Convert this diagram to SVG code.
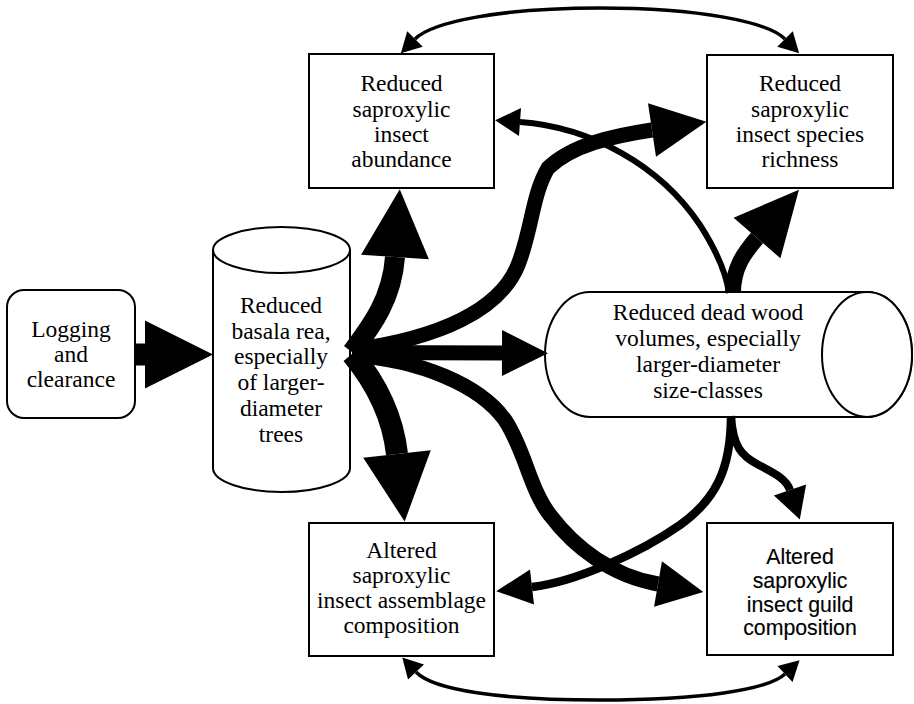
<svg xmlns="http://www.w3.org/2000/svg" width="914" height="704" viewBox="0 0 914 704">
<style>
.box{fill:#fff;stroke:#000;stroke-width:2}
.t{font-family:"Liberation Serif","Times New Roman",serif;font-size:23.5px;text-anchor:middle;fill:#000}
.s{font-family:"Liberation Sans",Arial,sans-serif;font-size:21.3px;text-anchor:middle;fill:#000;stroke:#000;stroke-width:0.15}
.c{fill:none;stroke:#000}
</style>
<defs>
<marker id="m68" markerUnits="userSpaceOnUse" markerWidth="70" markerHeight="70" refX="0" refY="34" orient="auto-start-reverse" overflow="visible"><path d="M0,0 L68,34 L0,68 Z"/></marker>
<marker id="m62" markerUnits="userSpaceOnUse" markerWidth="66" markerHeight="66" refX="0" refY="31" orient="auto-start-reverse" overflow="visible"><path d="M0,0 L64,31 L0,62 Z"/></marker>
<marker id="m55" markerUnits="userSpaceOnUse" markerWidth="56" markerHeight="56" refX="0" refY="27" orient="auto-start-reverse" overflow="visible"><path d="M0,0 L55,27 L0,54 Z"/></marker>
<marker id="m46" markerUnits="userSpaceOnUse" markerWidth="48" markerHeight="48" refX="0" refY="23" orient="auto-start-reverse" overflow="visible"><path d="M0,0 L46,23 L0,46 Z"/></marker>
<marker id="m36" markerUnits="userSpaceOnUse" markerWidth="38" markerHeight="38" refX="0" refY="17.5" orient="auto-start-reverse" overflow="visible"><path d="M0,0 L36,17.5 L0,35 Z"/></marker>
<marker id="m31" markerUnits="userSpaceOnUse" markerWidth="34" markerHeight="34" refX="0" refY="17" orient="auto-start-reverse" overflow="visible"><path d="M0,0 L31,17 L0,34 Z"/></marker>
<marker id="m25" markerUnits="userSpaceOnUse" markerWidth="28" markerHeight="28" refX="0" refY="14" orient="auto-start-reverse" overflow="visible"><path d="M0,0 L25,14 L0,28 Z"/></marker>
<marker id="m20" markerUnits="userSpaceOnUse" markerWidth="22" markerHeight="22" refX="0" refY="11" orient="auto-start-reverse" overflow="visible"><path d="M0,0 L20,11 L0,22 Z"/></marker>
</defs>
<rect width="914" height="704" fill="#fff"/>

<g id="logging">
<rect class="box" x="7" y="290" width="128" height="128" rx="17"/>
<text class="t" x="71" y="337">Logging</text>
<text class="t" x="71" y="362">and</text>
<text class="t" x="71" y="387">clearance</text>
</g>

<g id="basal-area">
<path class="box" d="M213,250 L213,468 A68.5,24 0 0 0 350,468 L350,250 Z"/>
<ellipse class="box" cx="281.5" cy="250" rx="68.5" ry="23"/>
<text class="t" x="281" y="313">Reduced</text>
<text class="t" x="281" y="338.7">basala rea,</text>
<text class="t" x="281" y="364.4">especially</text>
<text class="t" x="281" y="390">of larger-</text>
<text class="t" x="281" y="415.8">diameter</text>
<text class="t" x="281" y="441.5">trees</text>
</g>

<g id="abundance">
<rect class="box" x="309" y="54" width="185" height="134"/>
<text class="t" x="401.5" y="91">Reduced</text>
<text class="t" x="401.5" y="116.5">saproxylic</text>
<text class="t" x="401.5" y="142">insect</text>
<text class="t" x="401.5" y="167">abundance</text>
</g>

<g id="richness">
<rect class="box" x="707" y="55" width="186" height="133"/>
<text class="t" x="800" y="91">Reduced</text>
<text class="t" x="800" y="116.5">saproxylic</text>
<text class="t" x="800" y="142">insect species</text>
<text class="t" x="800" y="167">richness</text>
</g>

<g id="dead-wood">
<path class="box" d="M590,292 L867,292 A45,62.5 0 0 1 867,417 L590,417 A45,62.5 0 0 1 590,292 Z"/>
<ellipse class="box" cx="867" cy="354.5" rx="45" ry="62.5"/>
<text class="t" x="708" y="320">Reduced dead wood</text>
<text class="t" x="708" y="346">volumes, especially</text>
<text class="t" x="708" y="372">larger-diameter</text>
<text class="t" x="708" y="398">size-classes</text>
</g>

<g id="assemblage">
<rect class="box" x="309" y="523" width="185" height="133"/>
<text class="t" x="401.5" y="558">Altered</text>
<text class="t" x="401.5" y="583">saproxylic</text>
<text class="t" x="401.5" y="608">insect assemblage</text>
<text class="t" x="401.5" y="633">composition</text>
</g>

<g id="guild">
<rect class="box" x="707" y="523" width="186" height="132"/>
<text class="s" x="800" y="564">Altered</text>
<text class="s" x="800" y="588">saproxylic</text>
<text class="s" x="800" y="612">insect guild</text>
<text class="s" x="800" y="635">composition</text>
</g>

<g id="connectors">
<path class="c" stroke-width="22" d="M135,354.5 L145,354.5" marker-end="url(#m68)"/>
<path class="c" stroke-width="20" d="M352,352 C370,328 392,300 395,257" marker-end="url(#m68)"/>
<path class="c" stroke-width="22" d="M352,354 C372,378 392,410 397,454" marker-end="url(#m68)"/>
<path class="c" stroke-width="15" d="M352,352.5 L502,353" marker-end="url(#m46)"/>
<path class="c" stroke-width="15" d="M352,350 C440,338 500,310 518,265 C532,230 532,195 548,168 C572,145 612,136 652,130" marker-end="url(#m55)"/>
<path class="c" stroke-width="15" d="M352,355 C420,360 480,385 505,420 C525,450 530,490 550,515 C575,548 612,576 658,584" marker-end="url(#m46)"/>
<path class="c" stroke-width="16" d="M733,293 C733,268 744,253 757,238" marker-end="url(#m62)"/>
<path class="c" stroke-width="6" d="M520,122 C590,127 660,165 700,225 C716,250 726,272 729,293" marker-start="url(#m25)"/>
<path class="c" stroke-width="8.5" d="M731,416 C731,470 715,500 680,525 C640,553 575,582 532,587" marker-end="url(#m36)"/>
<path class="c" stroke-width="8" d="M731,416 C733,447 742,456 757,464 C772,472 786,478 790,490" marker-end="url(#m31)"/>
<path class="c" stroke-width="3.5" d="M415,39 C432,22 500,8 600,8 C700,8 768,22 785,39" marker-start="url(#m20)" marker-end="url(#m20)"/>
<path class="c" stroke-width="3.5" d="M416,672 C433,690 500,700 600,700 C700,700 768,690 785,674" marker-start="url(#m20)" marker-end="url(#m20)"/>
</g>
</svg>
